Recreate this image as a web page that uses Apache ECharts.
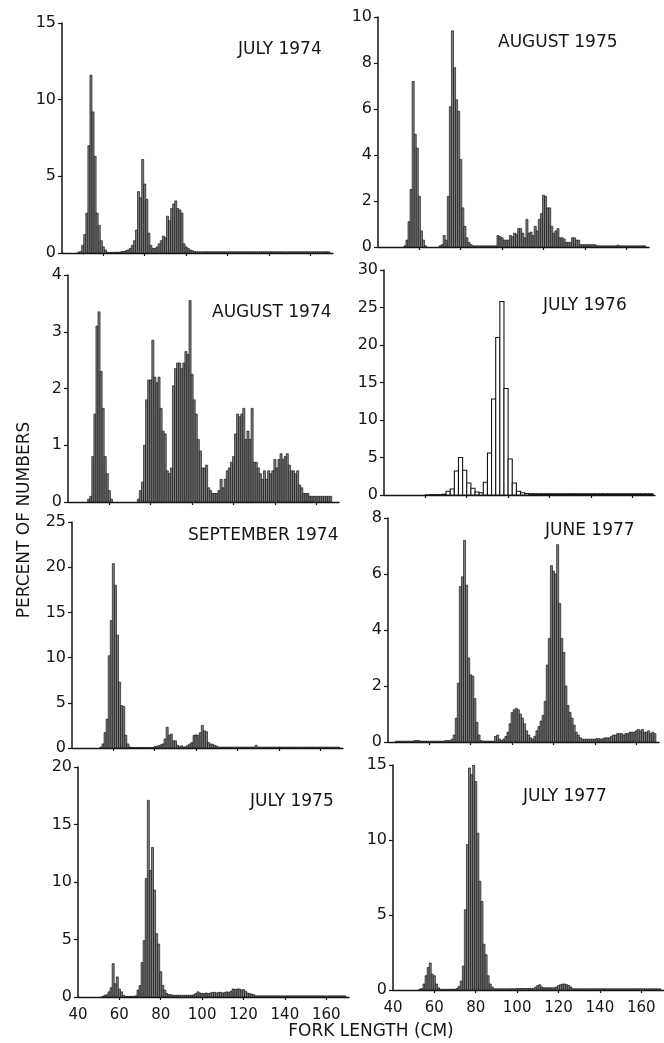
<!DOCTYPE html>
<html><head><meta charset="utf-8">
<script src="https://cdn.jsdelivr.net/npm/echarts@6/dist/echarts.min.js"></script>
<style>html,body{margin:0;padding:0;background:#fff}#c{width:664px;height:1043px}</style>
</head><body><div id="c"></div><script>
// ---------- DATA (percent of numbers per fork-length bin, cm) ----------
const panelTitles = ['JULY 1974','AUGUST 1975','AUGUST 1974','JULY 1976','SEPTEMBER 1974','JUNE 1977','JULY 1975','JULY 1977'];
const yMax  = [15,10,4,30,25,8,20,15];
const yStep = [5,2,1,5,5,2,5,5];
const xTickLabels = [40,60,80,100,120,140,160];
const xTickMarks  = [60,80,100,120,140,160];
const firstBin = [40,40,40,41,40,40,40,40];
const binWidth = [1,1,1,2,1,1,1,1];

const july1974 = [
 0,0,0,0,0,0,0,0,0.05,0.1,                 // 40-49
 0.5,1.2,2.6,7.0,11.6,9.2,6.3,2.6,1.8,0.8,  // 50-59
 0.4,0.2,0.05,0.03,0.03,0.05,0.05,0.05,0.05,0.1, // 60-69
 0.1,0.15,0.2,0.3,0.5,0.8,1.5,4.0,3.6,6.1,  // 70-79
 4.5,3.5,1.3,0.5,0.3,0.3,0.4,0.6,0.8,1.1,   // 80-89
 1.0,2.4,2.1,2.9,3.2,3.4,2.9,2.8,2.6,0.6,   // 90-99
 0.4,0.3,0.2,0.15,0.1,0.08,0.08,0.08,0.08,0.08, // 100-109
 0.08,0.08,0.08,0.08,0.08,0.08,0.08,0.08,0.08,0.08,
 0.08,0.08,0.08,0.08,0.08,0.08,0.08,0.08,0.08,0.08,
 0.08,0.08,0.08,0.08,0.08,0.08,0.08,0.08,0.08,0.08,
 0.08,0.08,0.08,0.08,0.08,0.08,0.08,0.08,0.08,0.08,
 0.08,0.08,0.08,0.08,0.08,0.08,0.08,0.08,0.08,0.08,
 0.08,0.08,0.08,0.08,0.08,0.08,0.08,0.08,0.08,0.08
];
const august1975 = [
 0,0,0,0,0,0,0,0,0,0,                       // 40-49
 0,0,0,0.05,0.3,1.1,2.5,7.2,4.9,4.3,        // 50-59
 2.2,0.7,0.3,0.05,0,0,0,0,0,0,              // 60-69
 0.05,0.1,0.5,0.3,2.2,6.1,9.4,7.8,6.4,5.9,  // 70-79
 3.8,1.7,0.9,0.4,0.2,0.1,0.05,0.05,0.05,0.05, // 80-89
 0.05,0.05,0.05,0.05,0.05,0.05,0.05,0.05,0.5,0.45, // 90-99
 0.4,0.3,0.3,0.3,0.5,0.45,0.6,0.55,0.8,0.8, // 100-109
 0.6,0.4,1.2,0.6,0.65,0.5,0.9,0.7,1.2,1.45, // 110-119
 2.25,2.2,1.7,1.7,0.9,0.6,0.7,0.8,0.4,0.4,  // 120-129
 0.35,0.2,0.2,0.2,0.4,0.4,0.3,0.3,0.1,0.1,  // 130-139
 0.1,0.1,0.1,0.1,0.1,0.1,0.05,0.05,0.05,0.05, // 140-149
 0.05,0.05,0.05,0.05,0.05,0.05,0.08,0.05,0.05,0.05, // 150-159
 0.05,0.05,0.05,0.05,0.05,0.05,0.05,0.05,0.05,0.05  // 160-169
];
const august1974 = [
 0,0,0,0,0,0,0,0,0,0,                       // 40-49
 0.05,0.1,0.8,1.55,3.1,3.35,2.3,1.65,0.8,0.5, // 50-59
 0.2,0.05,0,0,0,0,0,0,0,0,                  // 60-69
 0,0,0,0,0.05,0.2,0.35,1.0,1.8,2.15,        // 70-79
 2.15,2.85,2.2,2.1,2.2,1.65,1.25,1.2,0.55,0.5, // 80-89
 0.6,2.05,2.35,2.45,2.45,2.35,2.45,2.65,2.6,3.55, // 90-99
 2.25,1.8,1.55,1.1,0.9,0.6,0.6,0.65,0.25,0.2, // 100-109
 0.15,0.15,0.15,0.2,0.4,0.25,0.4,0.55,0.6,0.7, // 110-119
 0.8,1.2,1.55,1.5,1.55,1.65,1.1,1.25,1.1,1.65, // 120-129
 0.7,0.7,0.6,0.5,0.4,0.55,0.4,0.55,0.5,0.55, // 130-139
 0.75,0.6,0.75,0.85,0.75,0.8,0.85,0.65,0.55,0.55, // 140-149
 0.5,0.55,0.3,0.25,0.15,0.15,0.15,0.1,0.1,0.1, // 150-159
 0.1,0.1,0.1,0.1,0.1,0.1,0.1,0.1,0,0         // 160-169
];
// 2-cm bins centred on 41,43,...,169
const july1976 = [
 0,0,0,0,0,0,0,0,0,0,                       // 41-59
 0.02,0.05,0.05,0.05,0.1,0.5,0.8,3.2,5.0,3.3, // 61-79
 1.6,0.9,0.4,0.3,1.7,5.6,12.8,21.0,25.8,14.2, // 81-99
 4.8,1.6,0.5,0.3,0.2,0.15,0.15,0.15,0.15,0.15, // 101-119
 0.15,0.15,0.15,0.15,0.15,0.15,0.15,0.15,0.15,0.15, // 121-139
 0.15,0.15,0.15,0.15,0.15,0.15,0.15,0.15,0.15,0.15, // 141-159
 0.15,0.15,0.15,0.15,0.15                    // 161-169
];
const september1974 = [
 0,0,0,0,0,0,0,0,0,0,                       // 40-49
 0,0,0,0,0.1,0.45,1.7,3.2,10.2,14.1,        // 50-59
 20.4,18.0,12.5,7.3,4.7,4.6,1.4,0.45,0.1,0.05, // 60-69
 0.05,0.05,0.05,0.05,0.05,0.05,0.05,0.05,0.05,0.05, // 70-79
 0.15,0.2,0.25,0.35,0.45,1.0,2.3,1.4,1.55,0.8, // 80-89
 0.8,0.3,0.15,0.25,0.1,0.15,0.3,0.45,0.6,1.4, // 90-99
 1.45,1.4,1.7,2.5,1.9,1.8,0.6,0.45,0.4,0.3,  // 100-109
 0.2,0.1,0.1,0.1,0.1,0.1,0.1,0.1,0.1,0.1,    // 110-119
 0.1,0.1,0.1,0.1,0.1,0.1,0.1,0.1,0.1,0.3,    // 120-129
 0.1,0.1,0.1,0.1,0.1,0.1,0.1,0.1,0.1,0.1,
 0.1,0.1,0.1,0.1,0.1,0.1,0.1,0.1,0.1,0.1,
 0.1,0.1,0.1,0.1,0.1,0.1,0.1,0.1,0.1,0.1,
 0.1,0.1,0.1,0.1,0.1,0.1,0.1,0.1,0.1,0.1
];
const june1977 = [
 0,0,0,0,0.03,0.03,0.03,0.03,0.03,0.03,     // 40-49
 0.03,0.03,0.03,0.05,0.05,0.05,0.03,0.03,0.03,0.03, // 50-59
 0.03,0.03,0.03,0.03,0.03,0.03,0.03,0.03,0.05,0.05, // 60-69
 0.05,0.1,0.25,0.85,2.1,5.55,5.9,7.2,5.6,3.0, // 70-79
 2.4,2.35,1.55,0.7,0.25,0.05,0.03,0.03,0.03,0.03, // 80-89
 0.03,0.03,0.2,0.25,0.1,0.05,0.1,0.2,0.35,0.65, // 90-99
 1.05,1.15,1.2,1.15,1.0,0.85,0.65,0.4,0.25,0.15, // 100-109
 0.1,0.2,0.4,0.55,0.75,0.95,1.45,2.75,3.7,6.3, // 110-119
 6.1,6.0,7.05,4.95,3.7,3.2,2.0,1.3,1.05,0.85, // 120-129
 0.6,0.35,0.25,0.15,0.1,0.1,0.1,0.1,0.1,0.1,  // 130-139
 0.1,0.12,0.12,0.1,0.12,0.15,0.15,0.15,0.2,0.25, // 140-149
 0.25,0.3,0.3,0.3,0.25,0.3,0.3,0.35,0.35,0.35, // 150-159
 0.4,0.45,0.4,0.45,0.35,0.35,0.4,0.3,0.35,0.3  // 160-169
];
const july1975 = [
 0,0,0,0,0,0,0,0,0,0,                       // 40-49
 0,0,0.05,0.15,0.2,0.45,0.8,2.9,1.15,1.75,  // 50-59
 0.7,0.45,0.15,0.05,0.05,0.05,0.05,0.05,0.1,0.6, // 60-69
 1.0,3.0,4.9,10.3,17.1,11.0,13.0,9.3,5.5,4.6, // 70-79
 2.2,1.0,0.6,0.3,0.2,0.2,0.15,0.15,0.15,0.15, // 80-89
 0.15,0.15,0.15,0.15,0.15,0.15,0.2,0.3,0.45,0.35, // 90-99
 0.3,0.3,0.35,0.3,0.35,0.4,0.4,0.35,0.4,0.4, // 100-109
 0.35,0.4,0.45,0.4,0.5,0.7,0.65,0.7,0.7,0.6, // 110-119
 0.65,0.5,0.35,0.3,0.25,0.2,0.1,0.1,0.1,0.1, // 120-129
 0.1,0.1,0.1,0.1,0.1,0.1,0.1,0.1,0.1,0.1,
 0.1,0.1,0.1,0.1,0.1,0.1,0.1,0.1,0.1,0.1,
 0.1,0.1,0.1,0.1,0.1,0.1,0.1,0.1,0.1,0.1,
 0.1,0.1,0.1,0.1,0.1,0.1,0.1,0.1,0.1,0.1
];
const july1977 = [
 0,0,0,0,0,0,0,0,0,0,                       // 40-49
 0,0,0,0.05,0.1,0.4,0.95,1.5,1.8,1.05,      // 50-59
 0.95,0.4,0.15,0.05,0.05,0.05,0.05,0.05,0.05,0.05, // 60-69
 0.05,0.1,0.25,0.6,1.6,5.35,9.7,14.8,14.35,15.0, // 70-79
 13.9,10.45,7.25,5.9,3.05,2.35,0.95,0.4,0.2,0.08, // 80-89
 0.08,0.08,0.08,0.08,0.08,0.08,0.08,0.08,0.08,0.08, // 90-99
 0.1,0.1,0.1,0.1,0.1,0.1,0.1,0.1,0.1,0.2,   // 100-109
 0.3,0.35,0.2,0.15,0.15,0.15,0.15,0.15,0.15,0.2, // 110-119
 0.3,0.35,0.4,0.4,0.35,0.3,0.2,0.08,0.08,0.08, // 120-129
 0.08,0.08,0.08,0.08,0.08,0.08,0.08,0.08,0.08,0.08,
 0.08,0.08,0.08,0.08,0.08,0.08,0.08,0.08,0.08,0.08,
 0.08,0.08,0.08,0.08,0.08,0.08,0.08,0.08,0.08,0.08,
 0.08,0.08,0.08,0.08,0.08,0.08,0.08,0.08,0.08,0.08
];
const panelData = [july1974, august1975, august1974, july1976, september1974, june1977, july1975, july1977];

// ---------- LAYOUT ----------
const X_MIN = 40, X_MAX = 171;
const gridLeft   = [62,378,68,384,72,388,78,393];
const gridTop    = [23,17,275,270,522,518,767,765];
const gridHeight = [230,230,227,225,226,224,230,225];
const gridWidth  = 271;
const titleX = [238,498,212,543,188,545,250,523];
const titleY = [50,43,313,306,536,531,802,797];
const showXLabels = [false,false,false,false,false,false,true,true];
const FONT = '"DejaVu Sans", sans-serif';
const INK = '#151515';

const grids = [], xAxes = [], yAxes = [], series = [], graphics = [];
for (let i = 0; i < 8; i++) {
  grids.push({ left: gridLeft[i], top: gridTop[i], width: gridWidth, height: gridHeight[i], containLabel: false });
  xAxes.push({
    type: 'value', gridIndex: i, min: X_MIN, max: X_MAX,
    axisLine: { show: true, onZero: false, lineStyle: { color: INK, width: 1.4 } },
    axisTick: { show: true, length: 3, customValues: xTickMarks, lineStyle: { color: INK, width: 1.2 } },
    axisLabel: { show: showXLabels[i], customValues: xTickLabels, fontFamily: FONT, fontSize: 15, color: INK, margin: 11 },
    splitLine: { show: false }
  });
  yAxes.push({
    type: 'value', gridIndex: i, min: 0, max: yMax[i], interval: yStep[i],
    axisLine: { show: true, lineStyle: { color: INK, width: 1.5 } },
    axisTick: { show: true, length: 4, lineStyle: { color: INK, width: 1.2 } },
    axisLabel: { fontFamily: FONT, fontSize: 16, color: INK, margin: 6 },
    splitLine: { show: false }
  });
  const bw = binWidth[i];
  const openBars = bw === 2;
  const data = panelData[i].map((v, k) => [firstBin[i] + k * bw, v]).filter(d => d[1] > 0);
  series.push({
    type: 'custom', xAxisIndex: i, yAxisIndex: i, data: data, encode: { x: 0, y: 1 },
    clip: true, silent: true,
    renderItem: function (params, api) {
      const x = api.value(0), y = api.value(1);
      const a = api.coord([x - bw / 2, y]);
      const b = api.coord([x + bw / 2, 0]);
      return {
        type: 'rect',
        shape: { x: a[0], y: a[1], width: b[0] - a[0], height: b[1] - a[1] },
        style: openBars
          ? { fill: '#ffffff', stroke: INK, lineWidth: 1.1 }
          : { fill: '#7d7d7d', stroke: '#111111', lineWidth: 0.65 }
      };
    }
  });
  graphics.push({
    type: 'text', x: titleX[i], y: titleY[i],
    style: { text: panelTitles[i], font: '17px ' + FONT, fill: INK, textAlign: 'left', textVerticalAlign: 'middle' }
  });
}
graphics.push({
  type: 'text', x: 371, y: 1032,
  style: { text: 'FORK LENGTH (CM)', font: '17px ' + FONT, fill: INK, textAlign: 'center', textVerticalAlign: 'middle' }
});
graphics.push({
  type: 'text', x: 25, y: 520, rotation: Math.PI / 2,
  style: { text: 'PERCENT OF NUMBERS', font: '17px ' + FONT, fill: INK, textAlign: 'center', textVerticalAlign: 'middle' }
});

const chart = echarts.init(document.getElementById('c'), null, { renderer: 'canvas' });
chart.setOption({
  animation: false,
  backgroundColor: '#ffffff',
  grid: grids, xAxis: xAxes, yAxis: yAxes, series: series, graphic: graphics
});
</script></body></html>
